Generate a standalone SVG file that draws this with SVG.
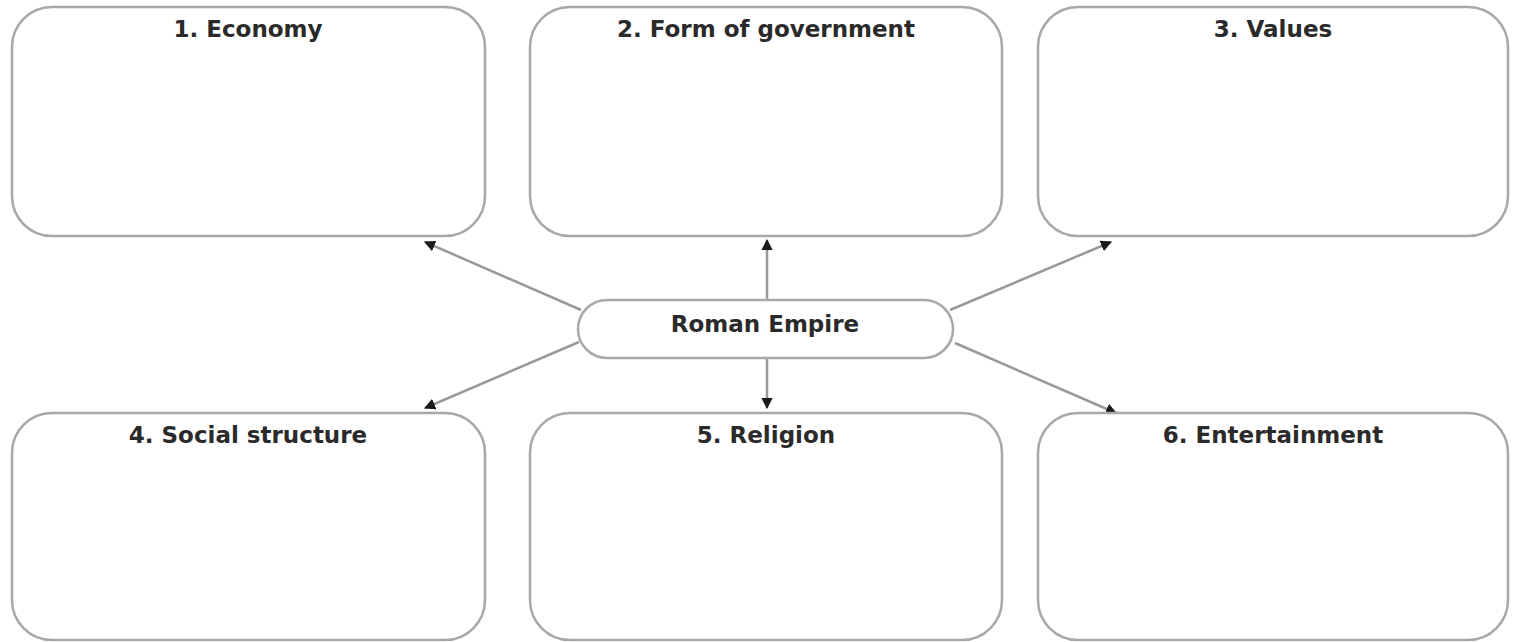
<svg xmlns="http://www.w3.org/2000/svg" width="1515" height="642" viewBox="0 0 1515 642">
<defs>
<style>
.box{fill:#fff;stroke:#a8a8a8;stroke-width:2.5}
.t{font-family:"DejaVu Sans",sans-serif;font-weight:bold;font-size:23px;fill:#2a2a2a;text-anchor:middle}
.c{stroke:#999;stroke-width:2.5;fill:none;marker-end:url(#ah)}
</style>
<marker id="ah" viewBox="0 0 10 10" refX="9" refY="5" markerWidth="4.5" markerHeight="4.5" orient="auto" markerUnits="strokeWidth">
<path d="M0,0 L10,5 L0,10 z" fill="#1a1a1a"/>
</marker>
</defs>
<rect width="1515" height="642" fill="#fff"/>
<g id="connectors">
<line class="c" x1="581" y1="310" x2="425" y2="242"/>
<line class="c" x1="767" y1="300" x2="767" y2="240"/>
<line class="c" x1="950" y1="310" x2="1111" y2="242"/>
<line class="c" x1="579" y1="342" x2="425" y2="408"/>
<line class="c" x1="767" y1="358" x2="767" y2="408"/>
<line class="c" x1="955" y1="343" x2="1116" y2="413"/>
</g>
<g id="n1"><rect class="box" x="12" y="7" width="473" height="229" rx="40"/><text class="t" x="248" y="37">1. Economy</text></g>
<g id="n2"><rect class="box" x="530" y="7" width="472" height="229" rx="40"/><text class="t" x="766" y="37">2. Form of government</text></g>
<g id="n3"><rect class="box" x="1038" y="7" width="470" height="229" rx="40"/><text class="t" x="1273" y="37">3. Values</text></g>
<g id="center"><rect class="box" x="578" y="300" width="375" height="58" rx="29"/><text class="t" x="765" y="332">Roman Empire</text></g>
<g id="n4"><rect class="box" x="12" y="413" width="473" height="227" rx="40"/><text class="t" x="248" y="443">4. Social structure</text></g>
<g id="n5"><rect class="box" x="530" y="413" width="472" height="227" rx="40"/><text class="t" x="766" y="443">5. Religion</text></g>
<g id="n6"><rect class="box" x="1038" y="413" width="470" height="227" rx="40"/><text class="t" x="1273" y="443">6. Entertainment</text></g>
</svg>
